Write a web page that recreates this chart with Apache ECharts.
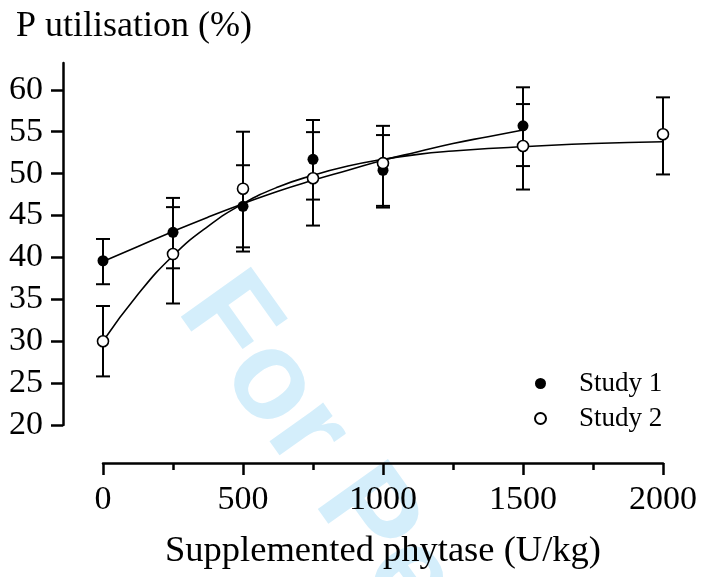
<!DOCTYPE html>
<html>
<head>
<meta charset="utf-8">
<script src="https://cdn.jsdelivr.net/npm/echarts@6/dist/echarts.min.js"></script>
<style>
html,body{margin:0;padding:0;background:#fff;}
#chart{width:704px;height:577px;}
</style>
</head>
<body>
<div id="chart"></div>
<script>
// ---- data ----
const s1X     = [0, 250, 500, 750, 1000, 1500];
const s1Mean  = [39.6, 43.0, 46.1, 51.7, 50.4, 55.7];
const s1Low   = [36.8, 38.7, 41.2, 46.9, 45.95, 50.9];
const s1High  = [42.2, 47.1, 51.0, 56.4, 54.6, 60.3];

const s2X     = [0, 250, 500, 750, 1000, 1500, 2000];
const s2Mean  = [30.0, 40.4, 48.2, 49.45, 51.25, 53.3, 54.7];
const s2Low   = [25.8, 34.5, 40.7, 43.8, 46.15, 48.1, 49.9];
const s2High  = [34.2, 46.0, 55.0, 54.95, 55.7, 58.3, 59.1];

// fitted curves
const s1FitX = [0, 125, 250, 375, 500, 625, 750, 875, 1000, 1125, 1250, 1375, 1500];
const s1Fit  = [39.5, 41.3, 43.1, 44.8, 46.4, 47.9, 49.2, 50.4, 51.6, 52.6, 53.6, 54.4, 55.2];
const s2FitX = [0, 125, 250, 375, 500, 625, 750, 875, 1000, 1125, 1250, 1375, 1500, 1750, 2000];
const s2Fit  = [30.0, 35.6, 40.2, 43.7, 46.4, 48.4, 49.8, 50.9, 51.7, 52.3, 52.7, 53.0, 53.2, 53.6, 53.8];

const yTicks = [20, 25, 30, 35, 40, 45, 50, 55, 60];
const seriesNames = ['Study 1', 'Study 2'];
const titleText = 'P utilisation (%)';
const xName = 'Supplemented phytase (U/kg)';
const watermark = 'For Peer Review';

// ---- build ----
const zip = (a, b) => a.map((v, i) => [v, b[i]]);
const zip3 = (a, b, c) => a.map((v, i) => [v, b[i], c[i]]);
const serif = 'Liberation Serif';

function errRender(params, api) {
  const x = api.value(0), lo = api.value(1), hi = api.value(2);
  const pLo = api.coord([x, lo]), pHi = api.coord([x, hi]);
  const hw = 7;
  const st = { stroke: '#000', lineWidth: 2 };
  return {
    type: 'group',
    children: [
      { type: 'line', shape: { x1: pLo[0], y1: pLo[1], x2: pHi[0], y2: pHi[1] }, style: st },
      { type: 'line', shape: { x1: pHi[0] - hw, y1: pHi[1], x2: pHi[0] + hw, y2: pHi[1] }, style: st },
      { type: 'line', shape: { x1: pLo[0] - hw, y1: pLo[1], x2: pLo[0] + hw, y2: pLo[1] }, style: st }
    ]
  };
}

const chart = echarts.init(document.getElementById('chart'), null, { renderer: 'canvas' });
chart.setOption({
  animation: false,
  backgroundColor: '#fff',
  title: {
    text: titleText, left: 11, top: 4,
    textStyle: { fontFamily: serif, fontSize: 36, fontWeight: 'normal', color: '#000' }
  },
  graphic: [{
    type: 'text', x: 204, y: 290, rotation: -54.5 * Math.PI / 180, z: -10, silent: true,
    style: { text: watermark, fontFamily: 'Liberation Sans', fontWeight: 'bold', fontSize: 125,
             fill: '#d4eefb', textAlign: 'left', textVerticalAlign: 'middle' }
  }],
  legend: {
    data: seriesNames, orient: 'vertical', left: 534, top: 370, selectedMode: false,
    itemWidth: 11, itemHeight: 11, itemGap: 8, padding: 0, icon: 'circle',
    textStyle: { fontFamily: serif, fontSize: 27, color: '#000', lineHeight: 24, padding: [0, 0, 0, 28] }
  },
  grid: { left: 103, right: 41, top: 63, bottom: 152 },
  xAxis: {
    type: 'value', min: 0, max: 2000, interval: 500, offset: 38,
    name: xName, nameLocation: 'middle', nameGap: 70,
    nameTextStyle: { fontFamily: serif, fontSize: 36.5, color: '#000' },
    axisLine: { onZero: false, lineStyle: { color: '#000', width: 2.5 } },
    axisTick: { show: true, length: 12, lineStyle: { color: '#000', width: 2.5 } },
    minorTick: { show: true, splitNumber: 2, length: 7, lineStyle: { color: '#000', width: 2.5 } },
    axisLabel: { fontFamily: serif, fontSize: 34, color: '#000', margin: 20, formatter: v => String(v) },
    splitLine: { show: false }
  },
  yAxis: {
    type: 'value', min: 20, max: 63.2, interval: 5, offset: 40,
    axisLine: { show: true, onZero: false, lineStyle: { color: '#000', width: 2.5 } },
    axisTick: { show: true, length: 12, customValues: yTicks, lineStyle: { color: '#000', width: 2.5 } },
    axisLabel: { fontFamily: serif, fontSize: 34, color: '#000', margin: 20, customValues: yTicks },
    splitLine: { show: false }
  },
  series: [
    { name: 'Study 1 fit', type: 'line', data: zip(s1FitX, s1Fit), smooth: true, showSymbol: false,
      lineStyle: { color: '#000', width: 1.6 }, z: 2 },
    { name: 'Study 2 fit', type: 'line', data: zip(s2FitX, s2Fit), smooth: true, showSymbol: false,
      lineStyle: { color: '#000', width: 1.6 }, z: 2 },
    { name: 'Study 1 err', type: 'custom', renderItem: errRender, data: zip3(s1X, s1Low, s1High), z: 3 },
    { name: 'Study 2 err', type: 'custom', renderItem: errRender, data: zip3(s2X, s2Low, s2High), z: 3 },
    { name: 'Study 1', type: 'scatter', data: zip(s1X, s1Mean), symbol: 'circle', symbolSize: 11,
      itemStyle: { color: '#000', opacity: 1 }, z: 4 },
    { name: 'Study 2', type: 'scatter', data: zip(s2X, s2Mean), symbol: 'circle', symbolSize: 11,
      itemStyle: { color: '#fff', borderColor: '#000', borderWidth: 1.6, opacity: 1 }, z: 5 }
  ]
});
</script>
</body>
</html>
